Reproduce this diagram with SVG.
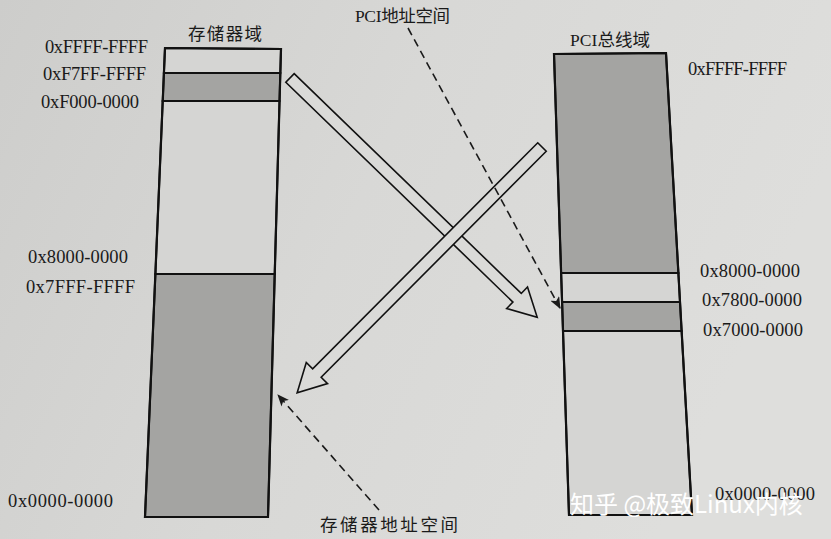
<svg xmlns="http://www.w3.org/2000/svg" width="831" height="539" viewBox="0 0 831 539">
  <defs>
    <linearGradient id="paper" x1="0" y1="0" x2="1" y2="0.3">
      <stop offset="0" stop-color="#cdcdcb"/>
      <stop offset="0.5" stop-color="#d8d8d6"/>
      <stop offset="1" stop-color="#dededc"/>
    </linearGradient>
    <marker id="dhead" viewBox="0 0 12 10" refX="11" refY="5" markerWidth="12" markerHeight="10" markerUnits="userSpaceOnUse" orient="auto">
      <path d="M0,0 L12,5 L0,10 L3,5 Z" fill="#1a1a1a"/>
    </marker>
    <style>
      .lbl { font-family: "Liberation Serif", "Times New Roman", serif; font-size: 18.5px; fill: #1a1a1a; }
      .cjk { font-family: "Liberation Serif", "Noto Sans CJK SC", serif; font-size: 17.5px; fill: #1a1a1a; }
      .light { fill: #d5d5d3; stroke: #111; stroke-width: 2; }
      .dark { fill: #a4a4a2; stroke: #111; stroke-width: 2; }
      .frame { fill: none; stroke: #111; stroke-width: 2.2; }
      .arrow { fill: #dadad8; stroke: #111; stroke-width: 1.6; stroke-linejoin: miter; }
      .dash { fill: none; stroke: #1a1a1a; stroke-width: 1.6; stroke-dasharray: 8 5; }
      .wm { font-family: "Noto Sans CJK SC", sans-serif; font-size: 24px; fill: #ffffff; }
    </style>
  </defs>

  <rect x="0" y="0" width="831" height="539" fill="url(#paper)"/>

  <!-- Memory domain column -->
  <g id="mem-domain">
    <text class="cjk" x="188" y="40" font-size="19" textLength="74">存储器域</text>
    <polygon class="light" points="165,48 281,49 280.3,73 163.9,73"/>
    <polygon class="dark" points="163.9,73 280.3,73 279.5,101 162.7,101"/>
    <polygon class="light" points="162.7,101 279.5,101 274.7,274 155.4,274"/>
    <polygon class="dark" points="155.4,274 274.7,274 268,517 145,517"/>
    <polygon class="frame" points="165,48 281,49 268,517 145,517"/>
    <text class="lbl" x="45" y="53" textLength="103">0xFFFF-FFFF</text>
    <text class="lbl" x="43" y="80" textLength="103">0xF7FF-FFFF</text>
    <text class="lbl" x="41" y="108" textLength="98">0xF000-0000</text>
    <text class="lbl" x="28" y="263" textLength="100">0x8000-0000</text>
    <text class="lbl" x="26" y="293" textLength="109">0x7FFF-FFFF</text>
    <text class="lbl" x="8" y="507" textLength="105">0x0000-0000</text>
  </g>

  <!-- PCI bus domain column -->
  <g id="pci-domain">
    <text class="cjk" x="570" y="46" textLength="80">PCI总线域</text>
    <polygon class="dark" points="554,54 666,53 678.4,273 561.1,273"/>
    <polygon class="light" points="561.1,273 678.4,273 680,302 562.1,302"/>
    <polygon class="dark" points="562.1,302 680,302 681.6,331 563,331"/>
    <polygon class="light" points="563,331 681.6,331 692,515 569,515"/>
    <polygon class="frame" points="554,54 666,53 692,515 569,515"/>
    <text class="lbl" x="688" y="75" textLength="99">0xFFFF-FFFF</text>
    <text class="lbl" x="700" y="277" textLength="100">0x8000-0000</text>
    <text class="lbl" x="702" y="306" textLength="100">0x7800-0000</text>
    <text class="lbl" x="703" y="336" textLength="100">0x7000-0000</text>
    <text class="lbl" x="715" y="500" textLength="100">0x0000-0000</text>
  </g>

  <!-- Address space labels -->
  <g id="pci-space-label">
    <text class="cjk" x="355" y="22" textLength="95">PCI地址空间</text>
  </g>
  <g id="mem-space-label">
    <text class="cjk" x="320" y="531" font-size="19.5" textLength="138">存储器地址空间</text>
  </g>

  <!-- Connectors -->
  <g id="connectors">
    <polygon class="arrow" transform="translate(290,78) rotate(44.06)" points="0,-6 316,-6 316,-15 344,0 316,15 316,6 0,6"/>
    <polygon class="arrow" transform="translate(542,147) rotate(134.88)" points="0,-6 319,-6 319,-15 347,0 319,15 319,6 0,6"/>
    <line class="dash" x1="408" y1="28" x2="560" y2="308" marker-end="url(#dhead)"/>
    <line class="dash" x1="379" y1="510" x2="278" y2="395" marker-end="url(#dhead)"/>
  </g>

  <text class="wm" x="570" y="513">知乎 @极致Linux内核</text>
</svg>
